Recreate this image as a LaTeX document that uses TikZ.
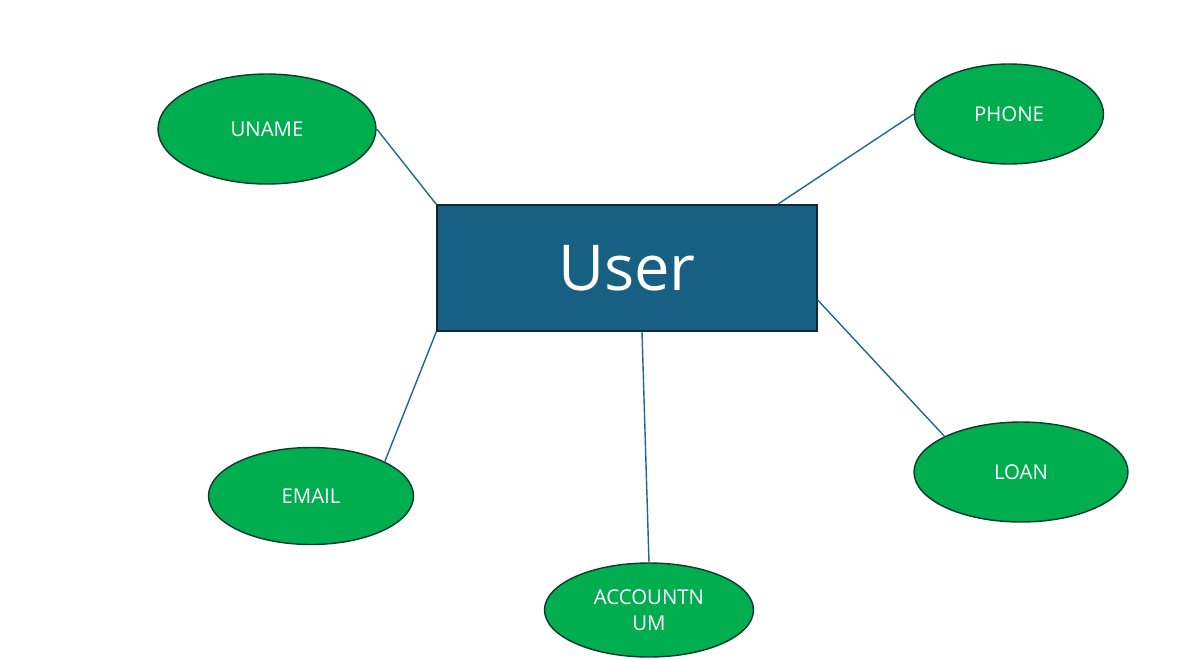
\documentclass[tikz,border=0pt]{standalone}
\usepackage{fontspec}
\setmainfont{Open Sans}
\usetikzlibrary{shapes.geometric, positioning}

\definecolor{entityblue}{HTML}{175F83}
\definecolor{entityline}{HTML}{0E2A3A}
\definecolor{attrgreen}{HTML}{00AD4F}
\definecolor{attrline}{HTML}{0B3B2E}
\definecolor{linkblue}{HTML}{1F6A8A}

\tikzset{
	entity/.style={draw=entityline, line width=0.8pt, fill=entityblue, text=white,
		minimum width=7.6cm, minimum height=2.52cm, inner sep=0pt, font=\fontsize{36}{40}\selectfont},
	attr/.style={ellipse, draw=attrline, line width=0.8pt, fill=attrgreen, text=white,
		inner sep=0pt, align=center, font=\fontsize{11.6}{14.8}\selectfont},
	link/.style={draw=linkblue, line width=0.8pt}
}

\begin{document}
\begin{tikzpicture}
		\useasboundingbox (0,0) rectangle (23.54,-13.18);
		% Define nodes (entity and attributes)
		\node[entity] (user) at (12.54,-5.36) {User};
		
		\node[attr, minimum width=4.36cm, minimum height=2.2cm] (uname) at (5.34,-2.58) {UNAME};
		\node[attr, minimum width=3.78cm, minimum height=2.0cm] (phone) at (20.18,-2.28) {PHONE};
		\node[attr, minimum width=4.1cm, minimum height=1.94cm] (email) at (6.22,-9.92) {EMAIL};
		\node[attr, minimum width=4.18cm, minimum height=1.88cm] (accountnum) at (12.98,-12.2) {ACCOUNTN\\UM};
		\node[attr, minimum width=4.28cm, minimum height=2.0cm] (loan) at (20.42,-9.44) {LOAN};
		
		% Draw connections
		\draw[link] (uname.east) -- (user.north west);
		\draw[link] (phone.west) -- ([xshift=-0.8cm]user.north east);
		\draw[link] (email.25) -- (user.south west);
		\draw[link] (accountnum.north) -- ([xshift=0.3cm]user.south);
		\draw[link] (loan.155) -- ([yshift=-0.64cm]user.east);
	\end{tikzpicture}
\end{document}
